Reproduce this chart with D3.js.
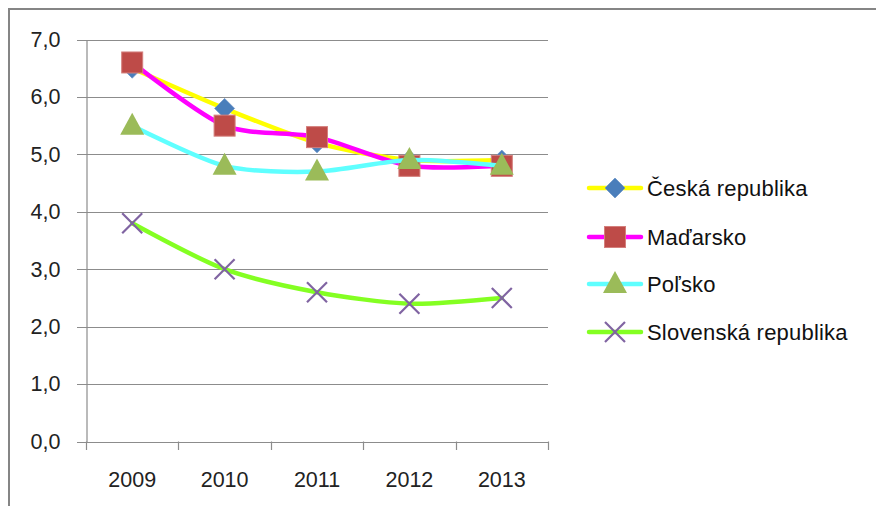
<!DOCTYPE html>
<html><head><meta charset="utf-8">
<script src="https://cdn.jsdelivr.net/npm/d3@7"></script>
<style>html,body{margin:0;padding:0;background:#fff;}svg{display:block;}</style>
</head><body>
<script>
const years = ["2009","2010","2011","2012","2013"];
const yTicks = [0,1,2,3,4,5,6,7];
const seriesNames = ["Česká republika","Maďarsko","Poľsko","Slovenská republika"];
const czValues = [6.5, 5.8, 5.2, 4.9, 4.9];
const huValues = [6.6, 5.5, 5.3, 4.8, 4.8];
const plValues = [5.5, 4.8, 4.7, 4.9, 4.8];
const skValues = [3.8, 3.0, 2.6, 2.4, 2.5];
const lineColors = ["#FFFF00","#FF00FF","#5FFFFF","#84FF22"];
const markerTypes = ["diamond","square","triangle","x"];

const W = 876, H = 506;
const svg = d3.select("body").append("svg").attr("width", W).attr("height", H);
const font = "'Liberation Sans', Arial, sans-serif";

// chart frame
svg.append("rect").attr("x", 9).attr("y", 9).attr("width", W + 20).attr("height", H + 20)
  .attr("fill", "#fff").attr("stroke", "#858585").attr("stroke-width", 2);

const x = d3.scaleBand().domain(years).range([86, 548]);
const y = d3.scaleLinear().domain([0, 7]).range([441.5, 39.5]);

// gridlines
svg.append("g").selectAll("line").data(yTicks).join("line")
  .attr("x1", 77).attr("x2", 548)
  .attr("y1", d => Math.round(y(d)) + 0.5).attr("y2", d => Math.round(y(d)) + 0.5)
  .attr("stroke", "#8c8c8c").attr("stroke-width", 1.2);

// y axis
const yAxis = d3.axisLeft(y).tickValues(yTicks).tickSize(0).tickPadding(26)
  .tickFormat(d => d3.format(".1f")(d).replace(".", ","));
const gy = svg.append("g").attr("transform", "translate(86.5,0)").call(yAxis);
gy.select(".domain").attr("stroke", "#8c8c8c").attr("stroke-width", 1.2);
gy.selectAll("text").attr("font-family", font).attr("font-size", 21.5).attr("fill", "#222");

// x axis
const edges = years.map(d => x(d)).concat([x.range()[1]]);
svg.append("g").selectAll("line").data(edges).join("line")
  .attr("x1", d => Math.round(d) + 0.5).attr("x2", d => Math.round(d) + 0.5)
  .attr("y1", 441.5).attr("y2", 450)
  .attr("stroke", "#8c8c8c").attr("stroke-width", 1.2);
svg.append("g").selectAll("text").data(years).join("text")
  .attr("x", d => x(d) + x.bandwidth() / 2).attr("y", 487)
  .attr("text-anchor", "middle").attr("font-family", font).attr("font-size", 21.5).attr("fill", "#222")
  .text(d => d);

const allValues = [czValues, huValues, plValues, skValues];
const cx = d => x(d) + x.bandwidth() / 2;

function drawMarker(g, type, px, py) {
  if (type === "diamond") {
    g.append("path").attr("d", `M${px},${py-10}L${px+10},${py}L${px},${py+10}L${px-10},${py}Z`)
      .attr("fill", "#4A7EBB").attr("stroke", "#6f97c9").attr("stroke-width", 0.8);
  } else if (type === "square") {
    g.append("rect").attr("x", px - 10.5).attr("y", py - 10.5).attr("width", 21).attr("height", 21)
      .attr("fill", "#BE4B48").attr("stroke", "#d47f7c").attr("stroke-width", 1);
  } else if (type === "triangle") {
    g.append("path").attr("d", `M${px},${py-13}L${px+12},${py+9}L${px-12},${py+9}Z`)
      .attr("fill", "#9BBB59");
  } else {
    g.append("path").attr("d", `M${px-10},${py-10}L${px+10},${py+10}M${px+10},${py-10}L${px-10},${py+10}`)
      .attr("stroke", "#8064A2").attr("stroke-width", 2.2).attr("fill", "none");
  }
}

const line = d3.line().x((d, i) => cx(years[i])).y(d => y(d)).curve(d3.curveCardinal.tension(0.2));
allValues.forEach((vals, si) => {
  const g = svg.append("g");
  g.append("path").datum(vals).attr("d", line).attr("fill", "none")
    .attr("stroke", lineColors[si]).attr("stroke-width", 4.5).attr("stroke-linejoin", "round").attr("stroke-linecap", "round");
  vals.forEach((v, i) => drawMarker(g, markerTypes[si], cx(years[i]), y(v)));
});

// legend
const legendY = [188, 237, 284, 332];
seriesNames.forEach((name, i) => {
  const g = svg.append("g");
  g.append("line").attr("x1", 589).attr("x2", 641).attr("y1", legendY[i]).attr("y2", legendY[i])
    .attr("stroke", lineColors[i]).attr("stroke-width", 4.5).attr("stroke-linecap", "round");
  drawMarker(g, markerTypes[i], 615, legendY[i]);
  g.append("text").attr("x", 647).attr("y", legendY[i] + 7.5)
    .attr("font-family", font).attr("font-size", 22).attr("letter-spacing", 0.2).attr("fill", "#111").text(name);
});
</script>
</body></html>
